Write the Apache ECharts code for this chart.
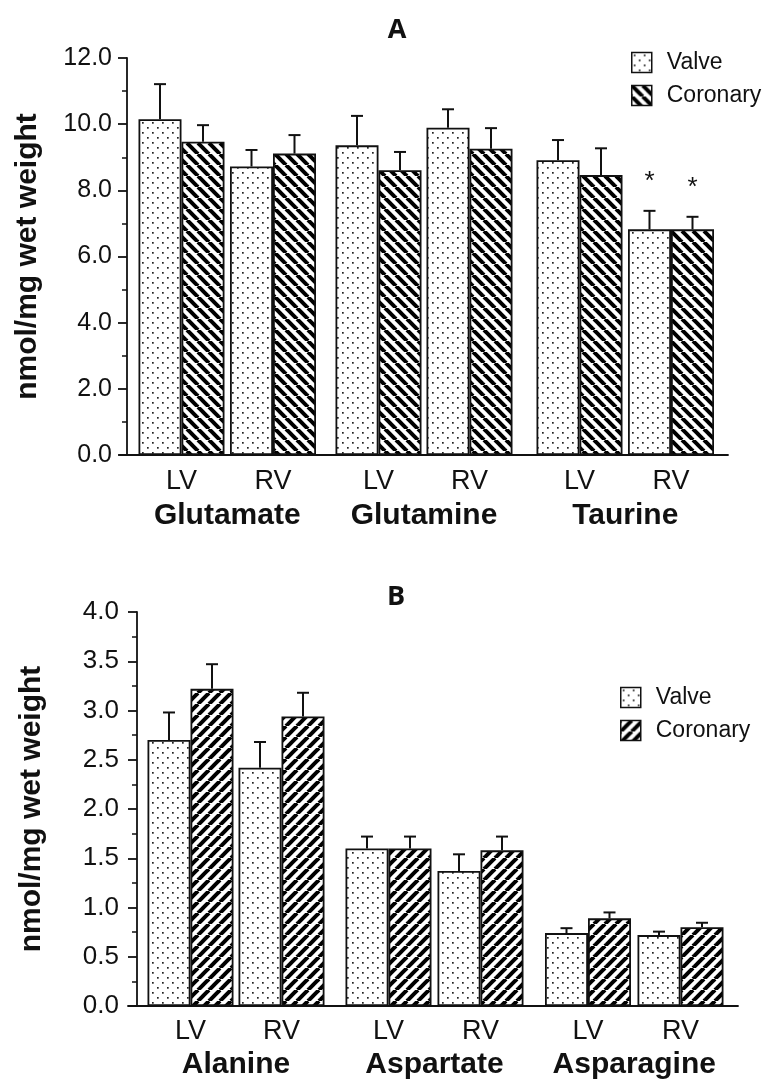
<!DOCTYPE html>
<html>
<head>
<meta charset="utf-8">
<script src="https://cdn.jsdelivr.net/npm/echarts@6/dist/echarts.min.js"></script>
<style>
  html, body { margin: 0; padding: 0; background: #fff; }
  #chart { width: 771px; height: 1082px; }
</style>
</head>
<body>
<div id="chart"></div>
<script>
// panel A
const groupsA = ['Glutamate', 'Glutamine', 'Taurine']
const sides = ['LV', 'RV']
// order: group1 LV, group1 RV, group2 LV, ...
const valveA = [10.15, 8.72, 9.36, 9.89, 8.91, 6.82]
const valveErrA = [1.06, 0.50, 0.89, 0.56, 0.61, 0.56]
const coronaryA = [9.47, 9.11, 8.61, 9.26, 8.46, 6.82]
const coronaryErrA = [0.50, 0.56, 0.55, 0.62, 0.81, 0.38]
const sigA = [0, 0, 0, 0, 0, 1]

// panel B
const groupsB = ['Alanine', 'Aspartate', 'Asparagine']
const valveB = [2.70, 2.42, 1.60, 1.37, 0.74, 0.72]
const valveErrB = [0.28, 0.26, 0.12, 0.17, 0.05, 0.035]
const coronaryB = [3.22, 2.94, 1.60, 1.58, 0.89, 0.80]
const coronaryErrB = [0.25, 0.24, 0.12, 0.14, 0.06, 0.045]
const sigB = [0, 0, 0, 0, 0, 0]

const H = 1082
const BAR_W = 43
const INK = '#111'
const FONT = '"Liberation Sans", Arial, sans-serif'

// fill patterns
function dotPattern () {
  const c = document.createElement('canvas')
  c.width = 10; c.height = 10
  const g = c.getContext('2d')
  g.fillStyle = '#fff'; g.fillRect(0, 0, 10, 10)
  g.fillStyle = '#222'
  g.fillRect(2, 2, 1.7, 1.7)
  g.fillRect(7, 7, 1.7, 1.7)
  return c
}
function stripePattern (back) {
  const n = 11
  const c = document.createElement('canvas')
  c.width = n; c.height = n
  const g = c.getContext('2d')
  g.fillStyle = '#fff'; g.fillRect(0, 0, n, n)
  g.strokeStyle = '#000'; g.lineWidth = 4
  for (const k of [-n, 0, n]) {
    g.beginPath()
    if (back) { g.moveTo(k, 0); g.lineTo(k + n, n) } else { g.moveTo(k + n, 0); g.lineTo(k, n) }
    g.stroke()
  }
  return c
}
const dotFill = { image: dotPattern(), repeat: 'repeat' }
const backFill = { image: stripePattern(true), repeat: 'repeat' }
const fwdFill = { image: stripePattern(false), repeat: 'repeat' }

const panels = [
  {
    title: 'A', groups: groupsA, valve: valveA, valveErr: valveErrA, cor: coronaryA, corErr: coronaryErrA, sig: sigA,
    max: 12, interval: 2, stripe: backFill,
    yAxisX: 127, x0: 120, x1: 728, top: 58, axisY: 455,
    centers: [[181.5, 273], [378.5, 469.5], [579.5, 671]],
    legend: { left: 631, top: 51 }, titlePos: [397, 30],
    tickFont: 25, tickMargin: 15,
    labelMargin: 13, groupGap: 46, yNameGap: 84
  },
  {
    title: 'B', groups: groupsB, valve: valveB, valveErr: valveErrB, cor: coronaryB, corErr: coronaryErrB, sig: sigB,
    max: 4, interval: 0.5, stripe: fwdFill,
    yAxisX: 137, x0: 128, x1: 738, top: 612, axisY: 1006,
    centers: [[190.5, 281.5], [388.5, 480.5], [588, 680.5]],
    legend: { left: 620, top: 686 }, titlePos: [396, 597],
    tickFont: 26, tickMargin: 18,
    labelMargin: 12, groupGap: 44, yNameGap: 90
  }
]

const grid = []
const xAxis = []
const yAxis = []
const series = []
const legend = []
const graphic = []

function errSeries (p, g, idx) {
  const data = []
  for (let k = 0; k < 2; k++) {
    const i = g * 2 + k
    data.push([k, p.valve[i], p.valveErr[i], -1, p.sig[i]])
    data.push([k, p.cor[i], p.corErr[i], 1, p.sig[i]])
  }
  return {
    type: 'custom',
    xAxisIndex: idx,
    yAxisIndex: idx,
    silent: true,
    z: 5,
    data: data,
    renderItem (params, api) {
      const base = api.coord([api.value(0), api.value(1)])
      const tip = api.coord([api.value(0), api.value(1) + api.value(2)])
      const x = base[0] + api.value(3) * BAR_W / 2
      const line = { stroke: INK, lineWidth: 2 }
      const children = [
        { type: 'line', shape: { x1: x, y1: base[1], x2: x, y2: tip[1] }, style: line },
        { type: 'line', shape: { x1: x - 6, y1: tip[1], x2: x + 6, y2: tip[1] }, style: line }
      ]
      if (api.value(4)) {
        children.push({
          type: 'text',
          style: { text: '*', x: x, y: tip[1] - 29, fill: INK, font: '26px ' + FONT, align: 'center', verticalAlign: 'middle' }
        })
      }
      return { type: 'group', children: children }
    }
  }
}

panels.forEach(p => {
  const bottom = H - p.axisY
  // main grid: axis lines, y ticks and labels
  const main = grid.length
  grid.push({ left: p.x0, right: 771 - p.x1, top: p.top, bottom: bottom })
  xAxis.push({
    gridIndex: main, type: 'value', min: 0, max: 1,
    axisLine: { show: true, lineStyle: { color: INK, width: 1.8 } },
    axisTick: { show: false }, axisLabel: { show: false }, splitLine: { show: false }
  })
  yAxis.push({
    gridIndex: main, type: 'value', min: 0, max: p.max, interval: p.interval,
    offset: -(p.yAxisX - p.x0),
    name: 'nmol/mg wet weight', nameLocation: 'middle', nameGap: p.yNameGap,
    nameTextStyle: { fontFamily: FONT, fontWeight: 'bold', fontSize: 30, color: INK },
    axisLine: { show: true, lineStyle: { color: INK, width: 1.8 } },
    axisTick: { show: true, length: 9, lineStyle: { color: INK, width: 1.8 } },
    minorTick: { show: true, splitNumber: 2, length: 5, lineStyle: { color: INK, width: 1.5 } },
    axisLabel: { fontFamily: FONT, fontSize: p.tickFont, color: INK, margin: p.tickMargin, formatter: v => v.toFixed(1) },
    splitLine: { show: false }
  })

  // one small grid per amino acid so the gap between groups can differ
  p.groups.forEach((name, g) => {
    const c = p.centers[g]
    const band = c[1] - c[0]
    const idx = grid.length
    grid.push({ left: c[0] - band / 2, width: band * 2, top: p.top, bottom: bottom })
    xAxis.push({
      gridIndex: idx, type: 'category', data: sides,
      name: name, nameLocation: 'middle', nameGap: p.groupGap,
      nameTextStyle: { fontFamily: FONT, fontWeight: 'bold', fontSize: 30, color: INK },
      axisLine: { show: false }, axisTick: { show: false },
      axisLabel: { fontFamily: FONT, fontSize: 27, color: INK, margin: p.labelMargin }
    })
    yAxis.push({ gridIndex: idx, type: 'value', min: 0, max: p.max, show: false })
    series.push({
      name: 'Valve', type: 'bar', xAxisIndex: idx, yAxisIndex: idx,
      barWidth: BAR_W, barGap: '0%',
      data: p.valve.slice(g * 2, g * 2 + 2),
      itemStyle: { color: dotFill, borderColor: INK, borderWidth: 1.8 }
    })
    series.push({
      name: 'Coronary', type: 'bar', xAxisIndex: idx, yAxisIndex: idx,
      barWidth: BAR_W, barGap: '0%',
      data: p.cor.slice(g * 2, g * 2 + 2),
      itemStyle: { color: p.stripe, borderColor: INK, borderWidth: 1.8 }
    })
    series.push(errSeries(p, g, idx))
  })

  legend.push({
    orient: 'vertical', left: p.legend.left, top: p.legend.top, padding: 0,
    itemWidth: 20, itemHeight: 20, itemGap: 10, icon: 'rect', selectedMode: false,
    textStyle: { fontFamily: FONT, fontSize: 23, color: INK, padding: [0, 0, 0, 10] },
    data: [
      { name: 'Valve', itemStyle: { color: dotFill, borderColor: INK, borderWidth: 1.5 } },
      { name: 'Coronary', itemStyle: { color: p.stripe, borderColor: INK, borderWidth: 1.5 } }
    ]
  })

  graphic.push({
    type: 'text', x: p.titlePos[0], y: p.titlePos[1],
    style: { text: p.title, fill: INK, font: 'bold 27px "Open Sans", sans-serif', align: 'center', verticalAlign: 'middle' }
  })
})

const chart = echarts.init(document.getElementById('chart'))
chart.setOption({
  animation: false,
  backgroundColor: '#fff',
  grid: grid,
  xAxis: xAxis,
  yAxis: yAxis,
  legend: legend,
  graphic: graphic,
  series: series
})
</script>
</body>
</html>
